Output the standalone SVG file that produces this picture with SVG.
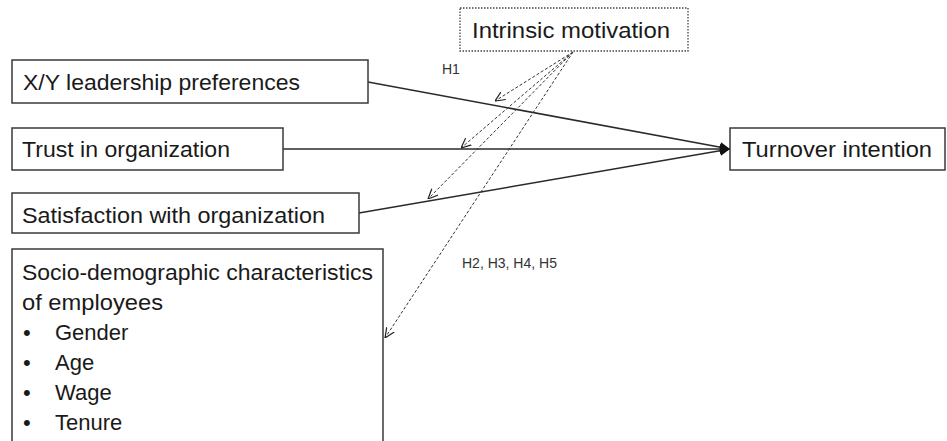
<svg xmlns="http://www.w3.org/2000/svg" width="947" height="441" viewBox="0 0 947 441">
<defs>
<style>
.box{fill:#fff;stroke:#3a3a3a;stroke-width:1.5}
.dotbox{fill:#fff;stroke:#444;stroke-width:1.3;stroke-dasharray:1.5 1.5}
.t{font-family:"Liberation Sans",Arial,sans-serif;font-size:22px;fill:#1a1a1a}
.s{font-family:"Liberation Sans",Arial,sans-serif;font-size:14px;fill:#333}
.solid{stroke:#2a2a2a;stroke-width:1.6;fill:none}
.dash{stroke:#333;stroke-width:1;stroke-dasharray:3 2;fill:none}
</style>
<marker id="ah" viewBox="0 0 10 10" refX="10" refY="5" markerWidth="12" markerHeight="10" markerUnits="userSpaceOnUse" orient="auto">
<path d="M0,0 L10,5 L0,10 z" fill="#111"/>
</marker>
<marker id="oh" viewBox="0 0 10 10" refX="10" refY="5" markerWidth="10" markerHeight="10" markerUnits="userSpaceOnUse" orient="auto">
<path d="M0,0.5 L10,5 L0,9.5" fill="none" stroke="#222" stroke-width="1.2"/>
</marker>
</defs>
<rect width="947" height="441" fill="#fff"/>

<g id="connectors">
<line class="solid" x1="368" y1="82" x2="730" y2="149" marker-end="url(#ah)"/>
<line class="solid" x1="283" y1="149" x2="730" y2="149" marker-end="url(#ah)"/>
<line class="solid" x1="359" y1="213" x2="730" y2="149" marker-end="url(#ah)"/>
<line class="dash" x1="573" y1="52" x2="495" y2="101" marker-end="url(#oh)"/>
<line class="dash" x1="573" y1="52" x2="461" y2="148" marker-end="url(#oh)"/>
<line class="dash" x1="573" y1="52" x2="428" y2="199" marker-end="url(#oh)"/>
<line class="dash" x1="573" y1="52" x2="385" y2="338" marker-end="url(#oh)"/>
<text class="s" x="442" y="74">H1</text>
<text class="s" x="462" y="268">H2, H3, H4, H5</text>
</g>

<g id="intrinsic">
<rect class="dotbox" x="460" y="8" width="228" height="43"/>
<text class="t" x="472" y="38" textLength="198" lengthAdjust="spacingAndGlyphs">Intrinsic motivation</text>
</g>

<g id="xy">
<rect class="box" x="12" y="60" width="356" height="43"/>
<text class="t" x="23" y="90" textLength="277" lengthAdjust="spacingAndGlyphs">X/Y leadership preferences</text>
</g>

<g id="trust">
<rect class="box" x="12" y="128" width="271" height="42"/>
<text class="t" x="22" y="157" textLength="208" lengthAdjust="spacingAndGlyphs">Trust in organization</text>
</g>

<g id="satisfaction">
<rect class="box" x="12" y="193" width="347" height="40"/>
<text class="t" x="22" y="223" textLength="303" lengthAdjust="spacingAndGlyphs">Satisfaction with organization</text>
</g>

<g id="turnover">
<rect class="box" x="730" y="128" width="215" height="42"/>
<text class="t" x="742" y="157" textLength="190" lengthAdjust="spacingAndGlyphs">Turnover intention</text>
</g>

<g id="socio">
<rect class="box" x="12" y="249" width="371" height="220"/>
<text class="t" x="22" y="280" textLength="351" lengthAdjust="spacingAndGlyphs">Socio-demographic characteristics</text>
<text class="t" x="22" y="310" textLength="141" lengthAdjust="spacingAndGlyphs">of employees</text>
<text class="t" x="23" y="340">•</text>
<text class="t" x="55" y="340">Gender</text>
<text class="t" x="23" y="370">•</text>
<text class="t" x="55" y="370">Age</text>
<text class="t" x="23" y="400">•</text>
<text class="t" x="55" y="400">Wage</text>
<text class="t" x="23" y="430">•</text>
<text class="t" x="55" y="430">Tenure</text>
</g>
</svg>
